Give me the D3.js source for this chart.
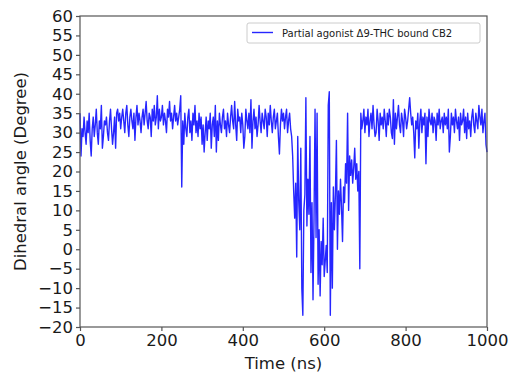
<!DOCTYPE html>
<html>
<head>
<meta charset="utf-8">
<script src="https://cdn.jsdelivr.net/npm/d3@7"></script>
<style>
  html, body { margin: 0; padding: 0; background: #fff; }
  svg { display: block; }
</style>
</head>
<body>
<svg id="chart" width="511" height="375"></svg>
<script>
// ---- data ----
const timeStart = 0;      // ns
const timeStep = 2.5;     // ns between samples
const dihedral = [
  35, 24, 31, 29, 34, 30, 27, 33, 30, 35, 28, 24, 31, 34, 29, 32, 36, 30, 27, 33,
  31, 37, 26, 29, 33, 32, 34, 30, 28, 33, 36, 31, 27, 30, 34, 26, 35, 36, 33, 35,
  31, 34, 36, 33, 30, 35, 37, 32, 29, 34, 36, 33, 31, 35, 28, 34, 37, 32, 35, 33,
  30, 34, 36, 32, 35, 38, 33, 31, 35, 34, 29, 36, 33, 37, 32, 34, 39.5, 31, 36, 33,
  34, 37, 32, 35, 33, 30, 36, 34, 38, 33, 35, 31, 34, 37, 33, 35, 32, 34, 36, 39.5,
  16, 33, 27, 35, 31, 29, 34, 36, 30, 33, 28, 35, 32, 37, 30, 33, 29, 35, 31, 34,
  27, 32, 25, 30, 34, 28, 33, 31, 35, 26, 32, 34, 29, 37, 25, 33, 28, 35, 32, 30,
  34, 36, 31, 33, 29, 35, 32, 30, 34, 37, 33, 31, 38, 32, 28, 36, 33, 34, 30, 35,
  32, 26, 29, 36, 33, 31, 35, 30, 38.5, 26, 33, 36, 31, 34, 29, 32, 37, 33, 30, 35,
  33, 31, 36, 34, 29, 35, 32, 37, 33, 30, 34, 36, 31, 33, 35, 29, 24.5, 32, 36, 33,
  35, 31, 34, 36, 30, 33, 35, 31, 29, 24, 15, 8, 17, -2, 29, 12, 5, 26, -10, -17,
  10, 14, 39, 6, 18, 9, 29, -6, 12, -13, 8, 36, 3, 35, -9, 5, -12, 2, -4, 8,
  -7, -3, 1, -6, 37, 40.5, -17, 12, -10, 16, 5, 14, 28, 0, 15, 9, 18, 11, 2, 16,
  12, 22, 17, 35, 10, 24, 19, 23, 17, 21, 26, 18, 22, 15, 20, -5, 35, 31, 33, 36,
  30, 34, 32, 36, 29, 33, 35, 31, 37, 32, 29, 30, 36, 33, 28, 35, 32, 34, 31, 36,
  33, 29, 35, 32, 36, 34, 30, 28.5, 38.5, 27, 35, 31, 34, 37, 32, 30, 35, 33, 29, 36,
  34, 31, 33, 36, 39, 35, 32, 34, 30, 23.5, 33, 31, 35, 26, 33, 36, 30, 34, 32, 35,
  22, 34, 29, 36, 33, 32, 35, 30, 34, 33, 28, 35, 32, 36, 31, 33, 34, 30, 35, 32,
  34, 31, 36, 25, 29, 35, 32, 34, 30, 36, 33, 31, 34, 28, 35, 32, 33, 36, 30, 34,
  28.5, 35, 31, 33, 29, 34, 36, 32, 30, 35, 33, 31, 37, 34, 32, 36, 30, 33, 35, 27,
  25
];
const xTicks = [0, 200, 400, 600, 800, 1000];
const yTicks = [-20, -15, -10, -5, 0, 5, 10, 15, 20, 25, 30, 35, 40, 45, 50, 55, 60];
const xLabel = "Time (ns)";
const yLabel = "Dihedral angle (Degree)";
const seriesName = "Partial agonist Δ9-THC bound CB2";

// ---- layout ----
const svg = d3.select("#chart");
const L = 80, R = 487, T = 16, B = 327;
const x = d3.scaleLinear().domain([0, 1000]).range([L, R]);
const y = d3.scaleLinear().domain([-20, 60]).range([B, T]);
const font = "'DejaVu Sans', sans-serif";
const textColor = "#1a1a1a";
const axisColor = "#555";

const points = dihedral.map((v, i) => ({ t: timeStart + i * timeStep, v }));

// line
svg.append("path")
  .datum(points)
  .attr("fill", "none")
  .attr("stroke", "#0000ff")
  .attr("stroke-width", 1.4)
  .attr("stroke-opacity", 0.85)
  .attr("stroke-linejoin", "round")
  .attr("d", d3.line().x(d => x(d.t)).y(d => y(d.v)));

// axes
const xAxis = svg.append("g")
  .attr("transform", `translate(0,${B})`)
  .call(d3.axisBottom(x).tickValues(xTicks).tickSize(4).tickPadding(3).tickFormat(d3.format("d")));
const yAxis = svg.append("g")
  .attr("transform", `translate(${L},0)`)
  .call(d3.axisLeft(y).tickValues(yTicks).tickSize(4).tickPadding(3).tickFormat(d3.format("d")));
[xAxis, yAxis].forEach(g => {
  g.select(".domain").remove();
  g.selectAll(".tick line").attr("stroke", axisColor).attr("stroke-width", 1.2);
  g.selectAll(".tick text").attr("fill", textColor)
    .style("font-family", font).style("font-size", "16.5px");
});

// frame
svg.append("rect")
  .attr("x", L).attr("y", T).attr("width", R - L).attr("height", B - T)
  .attr("fill", "none").attr("stroke", axisColor).attr("stroke-width", 1.2);

// axis labels
svg.append("text")
  .attr("x", (L + R) / 2).attr("y", 369)
  .attr("text-anchor", "middle")
  .attr("fill", textColor)
  .style("font-family", font).style("font-size", "16.5px")
  .text(xLabel);
svg.append("text")
  .attr("transform", `translate(26,${(T + B) / 2}) rotate(-90)`)
  .attr("text-anchor", "middle")
  .attr("fill", textColor)
  .style("font-family", font).style("font-size", "16.5px")
  .text(yLabel);

// legend
const lg = svg.append("g");
lg.append("rect")
  .attr("x", 247).attr("y", 23).attr("width", 233).attr("height", 20)
  .attr("rx", 2).attr("fill", "#fff").attr("fill-opacity", 0.8)
  .attr("stroke", "#ccc").attr("stroke-width", 1);
lg.append("line")
  .attr("x1", 252).attr("x2", 273).attr("y1", 32.5).attr("y2", 32.5)
  .attr("stroke", "#0000ff").attr("stroke-opacity", 0.85).attr("stroke-width", 1.4);
lg.append("text")
  .attr("x", 282).attr("y", 36.5)
  .attr("fill", textColor)
  .style("font-family", font).style("font-size", "10px")
  .text(seriesName);
</script>
</body>
</html>
